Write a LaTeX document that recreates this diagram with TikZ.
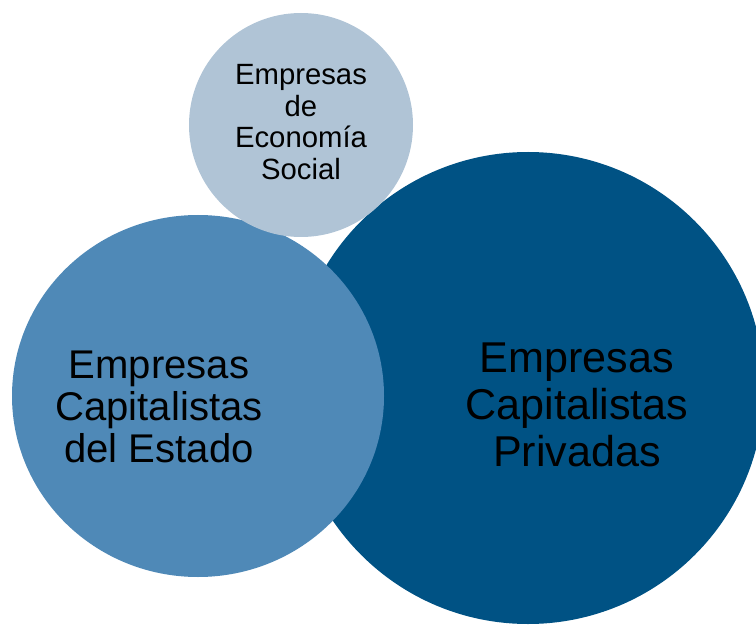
\documentclass[tikz,border=0pt]{standalone}
\usepackage{fontspec}
\setmainfont{Liberation Sans}
\usetikzlibrary{positioning}
\definecolor{socialblue}{HTML}{B0C4D6}
\definecolor{estadoblue}{HTML}{4F89B7}
\definecolor{privadablue}{HTML}{005284}

\begin{document}
\begin{tikzpicture}[
    x=0.03cm, y=-0.03cm,
    lbl/.style={align=center, text=black, inner sep=0pt},
    smalltxt/.style={lbl, font=\fontsize{25}{26.9}\selectfont},
    midtxt/.style={lbl, font=\fontsize{34.2}{35.9}\selectfont},
    bigtxt/.style={lbl, font=\fontsize{36.8}{40.1}\selectfont}
]
\useasboundingbox (0,0) rectangle (756,625);
% circles
\fill[privadablue] (528,388) circle[radius=236];
\fill[estadoblue] (198,396) ellipse[x radius=186, y radius=181];
\fill[socialblue] (301,125) circle[radius=112];
% labels
\node[smalltxt] (social) at (301,122) {Empresas\\de\\Economía\\Social};
\node[midtxt] (estado) at (159,407) {Empresas\\Capitalistas\\del Estado};
\node[bigtxt] (privada) at (577,405) {Empresas\\Capitalistas\\Privadas};
\end{tikzpicture}
\end{document}
